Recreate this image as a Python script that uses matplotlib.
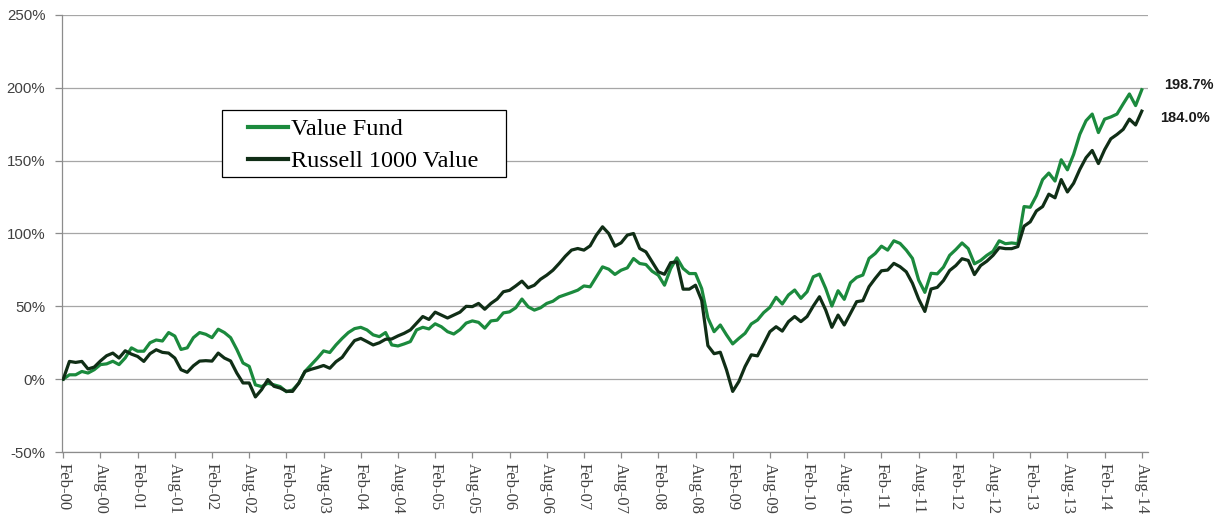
import matplotlib
matplotlib.use("Agg")
import matplotlib.pyplot as plt
import numpy as np
import pandas as pd
from matplotlib.patches import Rectangle
from matplotlib.ticker import MultipleLocator, FuncFormatter

# ---------------- data (cumulative return, %) ----------------
months = pd.date_range("2000-02-01", "2014-08-01", freq="MS")
month_labels = [d.strftime("%b-%y") for d in months]

series_names = ["Value Fund", "Russell 1000 Value"]

value_fund = [
    0.0, 3.0, 3.0, 5.3, 4.2, 6.5, 10.0, 10.5, 12.3, 10.0,
    14.6, 21.5, 19.2, 19.2, 25.0, 26.9, 26.2, 32.0, 29.6, 20.4,
    21.5, 28.5, 32.0, 30.8, 28.5, 34.3, 32.0, 28.5, 20.4, 11.1,
    8.8, -3.9, -5.1, -2.8, -3.9, -5.1, -8.6, -7.4, -2.8, 5.3,
    9.8, 14.4, 19.4, 18.3, 23.5, 28.0, 32.0, 34.7, 35.6, 33.8,
    30.4, 29.2, 32.0, 23.5, 22.8, 24.2, 25.8, 33.8, 35.6, 34.5,
    38.0, 36.0, 32.6, 31.0, 34.0, 38.5, 40.0, 39.0, 35.0, 40.0,
    40.5, 45.5, 46.2, 49.0, 55.0, 49.7, 47.4, 49.0, 52.0, 53.5,
    56.5, 58.0, 59.5, 61.1, 64.0, 63.4, 70.3, 77.1, 75.5, 71.9,
    74.8, 76.4, 82.8, 79.4, 78.7, 74.1, 71.4, 64.5, 76.0, 83.3,
    76.0, 72.5, 72.5, 62.2, 42.0, 32.6, 37.2, 30.4, 24.2, 28.0,
    31.5, 37.9, 40.6, 45.7, 49.3, 56.2, 51.6, 57.8, 61.2, 55.5,
    60.0, 70.3, 72.1, 62.3, 50.2, 60.7, 54.8, 66.2, 69.9, 71.5,
    82.9, 86.3, 91.3, 88.6, 95.0, 93.2, 88.6, 82.9, 68.0, 59.6,
    72.7, 72.3, 76.9, 85.0, 89.0, 93.5, 89.6, 79.2, 81.5, 85.0,
    87.8, 95.0, 93.0, 93.5, 93.0, 118.5, 118.0, 126.0, 137.0, 141.5,
    136.0, 150.6, 143.7, 154.3, 168.1, 177.4, 182.0, 169.3, 178.5, 180.0,
    182.0, 189.0, 195.8, 187.8, 198.7,
]

russell_1000_value = [
    0.0, 12.2, 11.5, 12.2, 7.0, 8.3, 12.5, 16.1, 17.9, 14.5,
    19.5, 17.2, 15.6, 12.2, 17.5, 20.2, 18.4, 17.9, 14.5, 6.5,
    4.7, 9.2, 12.4, 12.7, 12.4, 17.9, 14.5, 12.5, 4.2, -2.6,
    -2.6, -12.2, -7.2, -0.3, -4.9, -6.1, -8.3, -8.4, -2.7, 5.3,
    6.8, 8.0, 9.4, 7.5, 12.0, 15.0, 21.0, 26.5, 28.0, 25.8,
    23.5, 25.0, 27.4, 27.6, 29.7, 31.5, 33.8, 38.4, 43.0, 41.0,
    46.0, 44.0, 42.0, 44.0, 46.0, 50.0, 49.8, 52.0, 48.0, 52.0,
    55.0, 60.0, 61.0, 64.0, 67.3, 62.7, 64.5, 68.6, 71.4, 74.8,
    79.4, 84.4, 88.6, 89.7, 88.6, 91.5, 98.9, 104.6, 100.0, 91.3,
    93.6, 98.9, 100.0, 89.7, 87.4, 80.5, 73.7, 72.0, 80.0, 80.5,
    61.8, 61.8, 64.5, 54.0, 23.0, 17.5, 18.5, 6.4, -8.4, -1.6,
    8.7, 16.7, 16.0, 24.2, 32.6, 36.0, 33.0, 39.5, 43.0, 39.5,
    43.0, 50.2, 56.6, 47.5, 35.6, 44.0, 37.2, 45.2, 53.2, 53.9,
    63.5, 69.2, 74.4, 74.9, 79.5, 77.2, 73.7, 65.8, 55.0, 46.5,
    61.9, 63.0, 67.7, 74.6, 78.0, 82.7, 81.5, 71.8, 78.0, 81.0,
    85.0, 90.3, 89.6, 89.6, 91.0, 105.0, 108.0, 115.5, 118.5, 127.0,
    124.5, 137.0, 128.5, 134.5, 144.0, 152.0, 157.0, 148.0, 157.5, 165.0,
    168.0, 171.5, 178.5, 174.5, 184.0,
]

# ---------------- style ----------------
GREEN = "#1b8a3d"
DARK = "#102e16"
GRID = "#a6a6a6"
AXIS = "#8c8c8c"
TEXT = "#404040"

W, H = 1225, 520
fig = plt.figure(figsize=(W / 100, H / 100), dpi=100)
fig.patch.set_facecolor("white")
ax = fig.add_axes([62 / W, (H - 452) / H, (1148 - 62) / W, (452 - 15) / H])

x = np.arange(len(months))
l1, = ax.plot(x, value_fund, color=GREEN, lw=2.3, zorder=3,
              solid_joinstyle="round", label=series_names[0])
l2, = ax.plot(x, russell_1000_value, color=DARK, lw=2.3, zorder=3.1,
              solid_joinstyle="round", label=series_names[1])

ax.set_ylim(-50, 250)
ax.set_xlim(-0.2, 175)
ax.yaxis.set_major_locator(MultipleLocator(50))
ax.yaxis.set_major_formatter(FuncFormatter(lambda v, p: f"{v:.0f}%"))
ax.set_xticks(x[::6])
ax.set_xticklabels(month_labels[::6], rotation=-90, ha="center", va="top",
                   fontfamily="Liberation Serif", fontsize=12, color=TEXT)
for t in ax.get_yticklabels():
    t.set_fontfamily("Liberation Sans")
    t.set_fontsize(10.8)
    t.set_color(TEXT)

ax.grid(axis="y", color=GRID, lw=0.9)
ax.grid(axis="x", visible=False)
ax.set_axisbelow(True)
for s in ("top", "right"):
    ax.spines[s].set_visible(False)
for s in ("left", "bottom"):
    ax.spines[s].set_color(AXIS)
    ax.spines[s].set_linewidth(0.9)
ax.tick_params(axis="x", direction="out", length=4, width=0.9, color=AXIS, pad=4)
ax.tick_params(axis="y", direction="out", length=5, width=0.9, color=AXIS, pad=7)

# legend box
ax.add_patch(Rectangle(((222 - 62) / 1086, (452 - 177) / 437), 284 / 1086, 67 / 437,
                       transform=ax.transAxes, facecolor="white", edgecolor="black",
                       lw=0.9, zorder=4))
leg = ax.legend(handles=[l1, l2], loc="upper left",
                bbox_to_anchor=((248 - 62) / 1086, (452 - 118) / 437),
                frameon=False, borderpad=0, borderaxespad=0,
                handlelength=1.65, handletextpad=0.1, labelspacing=0.42,
                prop={"family": "Liberation Serif", "size": 17.5})
leg.set_zorder(5)
for h in leg.legend_handles:
    h.set_linewidth(3)

# end value labels
ax.annotate(f"{value_fund[-1]:.1f}%", xy=(x[-1], value_fund[-1]),
            xytext=(22, 5), textcoords="offset pixels", ha="left", va="center",
            fontfamily="Liberation Sans", fontweight="bold", fontsize=10.5,
            color="#1a1a1a", annotation_clip=False)
ax.annotate(f"{russell_1000_value[-1]:.1f}%", xy=(x[-1], russell_1000_value[-1]),
            xytext=(18, -7), textcoords="offset pixels", ha="left", va="center",
            fontfamily="Liberation Sans", fontweight="bold", fontsize=10.5,
            color="#1a1a1a", annotation_clip=False)

fig.savefig("out.png", dpi=100)
